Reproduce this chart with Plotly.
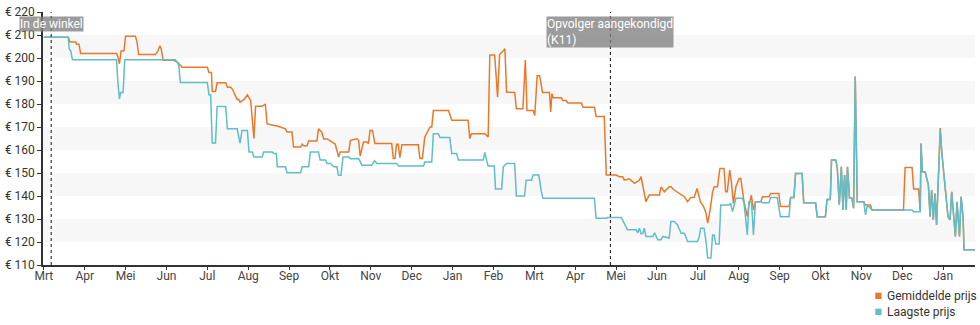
import plotly.graph_objects as go

# Month tick labels (numeric axis: 0 = first March, one unit per month)
month_ticks = list(range(23))
month_labels = ["Mrt", "Apr", "Mei", "Jun", "Jul", "Aug", "Sep", "Okt", "Nov", "Dec", "Jan", "Feb",
                "Mrt", "Apr", "Mei", "Jun", "Jul", "Aug", "Sep", "Okt", "Nov", "Dec", "Jan"]
price_ticks = [110, 120, 130, 140, 150, 160, 170, 180, 190, 200, 210, 220]

# Average price (month position, euro)
avg_series = [
    (0.00, 209), (0.60, 209), (0.64, 207), (0.78, 207), (0.80, 206), (0.86, 206), (0.90, 202),
    (1.78, 202), (1.82, 200), (1.85, 197.5), (1.89, 203), (1.96, 203), (2.00, 209.5), (2.24, 209.5),
    (2.28, 207), (2.32, 201.5), (2.73, 201.5), (2.79, 203), (2.84, 205.3), (2.87, 204), (2.92, 199),
    (3.18, 199), (3.28, 198), (3.34, 197), (3.38, 196), (4.00, 196), (4.04, 193.7), (4.10, 193.7),
    (4.12, 185.4), (4.20, 185.4), (4.24, 189.2), (4.45, 189.2), (4.49, 187.3), (4.57, 187.3),
    (4.61, 186.5), (4.65, 185), (4.73, 182), (4.77, 182), (4.80, 180.8), (4.90, 182), (4.98, 184),
    (5.06, 181.5), (5.14, 165), (5.18, 179), (5.34, 179), (5.42, 180), (5.46, 171.4), (5.54, 171),
    (5.71, 170.4), (5.91, 169.2), (5.95, 167.8), (6.07, 167.8), (6.11, 161.3), (6.28, 161.3),
    (6.32, 162.5), (6.36, 161.8), (6.44, 161.8), (6.48, 163.9), (6.68, 163.9), (6.72, 169.2),
    (6.80, 167.8), (6.85, 164.8), (6.93, 164.8), (7.01, 164), (7.13, 162.5), (7.21, 157),
    (7.25, 159.1), (7.46, 159.1), (7.50, 164.2), (7.66, 164.9), (7.70, 164.2), (7.74, 157.4),
    (7.82, 163.5), (7.90, 163.5), (7.94, 162.8), (7.98, 168.5), (8.04, 168.5), (8.10, 162.8),
    (8.51, 162.8), (8.55, 156.3), (8.59, 156.3), (8.63, 162.5), (8.67, 162.5), (8.71, 156.7),
    (8.76, 162.3), (9.16, 162.3), (9.20, 156.3), (9.26, 156.3), (9.32, 165.7), (9.45, 170),
    (9.49, 170), (9.53, 177.2), (9.90, 177.2), (9.98, 172.9), (10.38, 172.9), (10.42, 164.9),
    (10.46, 167.1), (10.79, 167.1), (10.87, 165.7), (10.91, 201.3), (11.03, 201.3), (11.10, 183),
    (11.15, 201.5), (11.24, 203.1), (11.28, 204), (11.32, 185.1), (11.52, 185), (11.56, 177.9),
    (11.72, 177.9), (11.78, 199.1), (11.82, 177.2), (11.97, 177.2), (12.01, 175), (12.07, 192.3),
    (12.13, 192.3), (12.20, 185), (12.37, 185), (12.40, 176.5), (12.43, 184.5), (12.46, 182.7),
    (12.66, 182.7), (12.70, 181.5), (12.78, 181.5), (12.82, 180.4), (13.15, 180.4), (13.19, 178.6),
    (13.47, 178.6), (13.51, 174.6), (13.71, 174.6), (13.76, 149.1), (14.00, 149.1), (14.08, 148.4),
    (14.16, 148.4), (14.20, 146.9), (14.32, 147.5), (14.45, 145.5), (14.57, 146.9), (14.61, 148.4),
    (14.73, 137.5), (14.81, 140.4), (15.06, 140.4), (15.10, 144), (15.18, 141.8), (15.30, 144),
    (15.34, 144), (15.42, 142.6), (15.54, 141.1), (15.67, 139.7), (15.75, 137.5), (15.83, 139.4),
    (15.91, 139.4), (15.98, 143.3), (16.06, 137.5), (16.14, 135.4), (16.20, 132.5), (16.24, 128.2),
    (16.30, 133.9), (16.36, 141.8), (16.40, 144), (16.48, 144), (16.54, 152), (16.64, 152),
    (16.68, 141.8), (16.72, 141.8), (16.78, 151.3), (16.82, 146.2), (16.87, 136.8), (16.93, 144),
    (17.01, 147.6), (17.05, 147.6), (17.13, 137.5), (17.21, 131), (17.25, 136), (17.31, 140.4),
    (17.36, 134), (17.41, 137.5), (17.54, 137.5), (17.58, 139.7), (17.74, 139.7), (17.78, 141.1),
    (17.98, 141.1), (18.02, 135.4), (18.23, 135.4), (18.27, 139.4), (18.35, 139.4), (18.39, 149.8),
    (18.55, 149.8), (18.59, 137.1), (18.88, 137.1), (18.92, 131), (19.12, 131), (19.16, 138.5),
    (19.24, 138.5), (19.27, 155.6), (19.37, 155.6), (19.41, 152.7), (19.46, 136.1), (19.51, 152.7),
    (19.55, 133.9), (19.59, 149.1), (19.63, 133.9), (19.66, 152.7), (19.71, 139), (19.77, 139),
    (19.81, 134.7), (19.85, 191.9), (19.90, 137.5), (20.06, 137.5), (20.10, 136.1), (20.22, 136.1),
    (20.26, 133.9), (21.03, 133.9), (21.07, 152.4), (21.24, 152.4), (21.28, 143), (21.40, 143),
    (21.44, 133.2), (21.46, 162.8), (21.49, 150.5), (21.56, 150.5), (21.64, 144.7), (21.68, 131),
    (21.72, 142.6), (21.76, 129.6), (21.80, 141.1), (21.84, 127.4), (21.87, 141.8), (21.93, 169.5),
    (21.97, 158.5), (22.07, 138.3), (22.12, 131), (22.17, 129.6), (22.21, 141.8), (22.30, 122.4),
    (22.34, 137.5), (22.40, 122.4), (22.44, 139.7), (22.49, 130.3), (22.51, 116.6), (22.78, 116.6),
]

# Lowest price (month position, euro)
low_series = [
    (0.00, 209), (0.60, 209), (0.62, 204), (0.66, 203), (0.70, 199.2), (1.78, 199.2), (1.81, 190),
    (1.85, 182.2), (1.88, 185), (1.94, 185), (1.98, 199.2), (3.22, 199.2), (3.30, 197), (3.34, 189.4),
    (4.00, 189.4), (4.04, 184), (4.08, 184), (4.12, 163), (4.20, 163), (4.24, 178.9), (4.45, 178.9),
    (4.49, 169.2), (4.73, 169.2), (4.80, 163), (4.85, 168.5), (4.98, 168.5), (5.02, 159.1),
    (5.10, 159.1), (5.14, 157), (5.34, 157), (5.38, 159.1), (5.59, 159.1), (5.63, 158.5),
    (5.69, 158.5), (5.71, 152.7), (5.91, 152.7), (5.95, 150.1), (6.28, 150.1), (6.32, 152.7),
    (6.48, 152.7), (6.52, 159.1), (6.72, 159.1), (6.76, 155.6), (6.89, 155.6), (6.93, 154.1),
    (7.01, 154.1), (7.09, 152.7), (7.17, 152.7), (7.21, 149), (7.27, 149), (7.32, 157), (7.46, 157),
    (7.50, 156.2), (7.70, 156.3), (7.78, 153.4), (8.02, 153.4), (8.09, 155.3), (8.15, 154.1),
    (8.63, 154.1), (8.68, 153), (9.29, 153), (9.32, 154.8), (9.49, 154.8), (9.53, 167.1),
    (9.65, 167.1), (9.69, 165.4), (9.93, 165.4), (9.98, 158.5), (10.10, 158.5), (10.14, 155.6),
    (10.75, 155.6), (10.79, 159), (10.83, 155.6), (10.87, 153), (11.02, 153), (11.05, 143),
    (11.20, 143), (11.24, 152.7), (11.32, 154.1), (11.52, 154.1), (11.56, 140), (11.76, 140),
    (11.80, 146.9), (11.93, 146.9), (11.97, 149.1), (12.11, 149.1), (12.17, 142), (12.21, 139),
    (13.47, 139), (13.51, 130.3), (13.76, 130.3), (13.80, 130.6), (14.12, 130.6), (14.16, 129.5),
    (14.28, 125.3), (14.49, 125.3), (14.53, 124), (14.57, 126), (14.61, 123.6), (14.65, 123.6),
    (14.69, 126), (14.73, 122.4), (14.90, 122.4), (14.94, 124), (15.02, 121), (15.10, 121),
    (15.14, 122.4), (15.30, 121.7), (15.34, 128.9), (15.42, 128.9), (15.50, 127.5), (15.59, 123.8),
    (15.67, 123.8), (15.75, 120.2), (15.99, 120.2), (16.03, 122), (16.07, 126), (16.15, 126),
    (16.20, 120.2), (16.24, 113), (16.32, 113), (16.36, 123), (16.40, 123), (16.44, 119.1),
    (16.52, 119.1), (16.56, 136.1), (16.76, 136.1), (16.80, 136.8), (16.85, 133.2), (16.93, 139),
    (17.09, 139), (17.13, 136.8), (17.21, 123.1), (17.25, 137.5), (17.31, 137.5), (17.36, 123.1),
    (17.41, 137.5), (17.54, 137.5), (17.58, 137.1), (17.74, 137.1), (17.78, 139.4), (17.94, 139.4),
    (18.02, 131), (18.23, 131), (18.27, 139.4), (18.35, 139.4), (18.39, 149.8), (18.55, 149.8),
    (18.59, 137.1), (18.88, 137.1), (18.92, 131), (19.12, 131), (19.16, 138.5), (19.24, 138.5),
    (19.27, 155.6), (19.37, 155.6), (19.41, 152.7), (19.46, 136.1), (19.51, 152.7), (19.55, 133.9),
    (19.59, 149.1), (19.63, 133.9), (19.66, 152.7), (19.71, 139), (19.77, 139), (19.81, 134.7),
    (19.85, 191.9), (19.90, 137.5), (20.06, 137.5), (20.10, 131.8), (20.14, 135.4), (20.18, 135.4),
    (20.26, 133.9), (21.24, 133.9), (21.28, 133.2), (21.44, 133.2), (21.46, 162.8), (21.49, 150.5),
    (21.56, 150.5), (21.64, 144.7), (21.68, 131), (21.72, 142.6), (21.76, 129.6), (21.80, 141.1),
    (21.84, 127.4), (21.87, 141.8), (21.93, 168.5), (21.97, 158.5), (22.07, 138.3), (22.12, 131),
    (22.17, 129.6), (22.21, 141.8), (22.30, 122.4), (22.34, 137.5), (22.40, 122.4), (22.44, 139.7),
    (22.49, 130.3), (22.51, 116.6), (22.78, 116.6),
]

# Marked events (month position, label)
events = [
    (0.18, "In de winkel"),
    (13.86, "Opvolger aangekondigd<br>(K11)"),
]

series_names = ["Gemiddelde prijs", "Laagste prijs"]
series_colors = ["#e8792b", "#5fbec8"]

fig = go.Figure()
for name, color, data in zip(series_names, series_colors, [avg_series, low_series]):
    fig.add_trace(go.Scatter(
        x=[p[0] for p in data], y=[p[1] for p in data],
        mode="lines", name=name, showlegend=False,
        line=dict(color=color, width=1.5),
        hoverinfo="x+y",
    ))

# Alternating horizontal bands behind the lines
shapes = []
for lo in price_ticks[1:-1:2]:
    shapes.append(dict(type="rect", xref="paper", x0=0, x1=1, yref="y", y0=lo, y1=lo + 10,
                       fillcolor="#f7f7f7", line=dict(width=0), layer="below"))

# Event markers: dotted vertical lines with a grey label box
annotations = []
for pos, label in events:
    shapes.append(dict(type="line", xref="x", x0=pos, x1=pos, yref="paper", y0=0, y1=1,
                       line=dict(color="#111", width=1, dash="dot")))
    annotations.append(dict(x=pos, y=0.986, xref="x", yref="paper", xanchor="center", yanchor="top",
                            text=label, showarrow=False, align="left",
                            font=dict(family="Roboto", size=12, color="white"),
                            bgcolor="rgba(128,128,128,0.78)", borderpad=0))

# Legend in the bottom-right corner: colour square followed by the series name
legend_rows = [-0.122, -0.185]
for name, color, ly in zip(series_names, series_colors, legend_rows):
    annotations.append(dict(x=0.9037, y=ly, xref="paper", yref="paper", xanchor="left", yanchor="middle",
                            text=name, showarrow=False,
                            font=dict(family="Roboto", size=12, color="#333")))
    shapes.append(dict(type="rect", xref="paper", yref="paper",
                       x0=0.8930, x1=0.8997, y0=ly - 0.0125, y1=ly + 0.0125,
                       fillcolor=color, line=dict(width=0)))

fig.update_layout(
    width=980, height=325,
    margin=dict(l=40, r=5, t=11, b=60),
    paper_bgcolor="white", plot_bgcolor="white",
    font=dict(family="Roboto", size=12, color="#333"),
    shapes=shapes, annotations=annotations,
    showlegend=False,
    xaxis=dict(range=[-0.02, 22.78], tickmode="array", tickvals=month_ticks, ticktext=month_labels,
               showgrid=False, zeroline=False, showline=True, linecolor="#333", linewidth=1.5,
               ticks="outside", ticklen=3, tickcolor="#333", ticklabelstandoff=-4,
               tickfont=dict(color="#444", size=12)),
    yaxis=dict(range=[110, 220], tickmode="array", tickvals=price_ticks,
               ticktext=["€ %d" % v for v in price_ticks],
               showgrid=False, zeroline=False, showline=True, linecolor="#333", linewidth=1.5,
               ticks="outside", ticklen=4, tickcolor="#333", tickfont=dict(color="#333", size=12)),
)

fig.write_html("out.html")
